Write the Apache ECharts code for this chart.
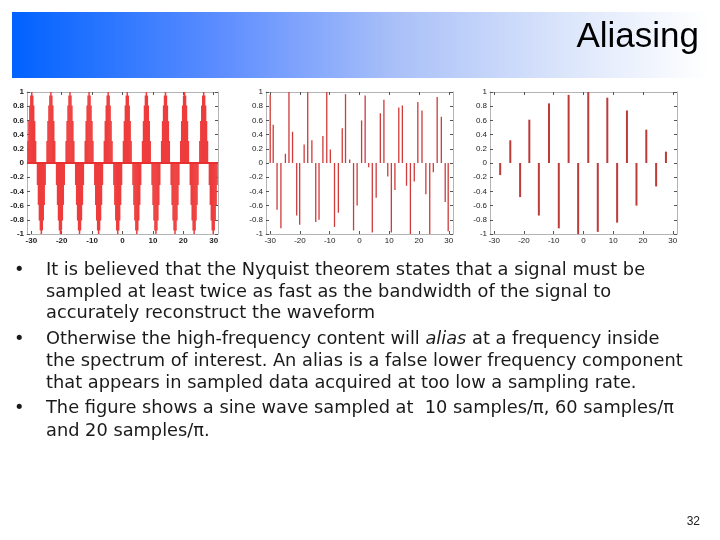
<!DOCTYPE html>
<html>
<head>
<meta charset="utf-8">
<script src="https://cdn.jsdelivr.net/npm/echarts@6/dist/echarts.min.js"></script>
<style>html,body{margin:0;padding:0;background:#fff;}#c{width:720px;height:540px;}</style>
</head>
<body>
<div id="c"></div>
<script>
// ---- data ----
const xTickValues = [-30, -20, -10, 0, 10, 20, 30];
const xRange = [-31.416, 31.416];

// Plot 1: dense samples (10 samples per pi), sample start and step in x units
const plot1Start = -31.416;
const plot1Step = 0.31416;
const plot1Values = [
  0, 0.31, 0.59, 0.81, 0.95, 1, 0.95, 0.81, 0.59, 0.31, 0, -0.31, -0.59, -0.81, -0.95, -1, -0.95, -0.81, -0.59, -0.31,
  0, 0.31, 0.59, 0.81, 0.95, 1, 0.95, 0.81, 0.59, 0.31, 0, -0.31, -0.59, -0.81, -0.95, -1, -0.95, -0.81, -0.59, -0.31,
  0, 0.31, 0.59, 0.81, 0.95, 1, 0.95, 0.81, 0.59, 0.31, 0, -0.31, -0.59, -0.81, -0.95, -1, -0.95, -0.81, -0.59, -0.31,
  0, 0.31, 0.59, 0.81, 0.95, 1, 0.95, 0.81, 0.59, 0.31, 0, -0.31, -0.59, -0.81, -0.95, -1, -0.95, -0.81, -0.59, -0.31,
  0, 0.31, 0.59, 0.81, 0.95, 1, 0.95, 0.81, 0.59, 0.31, 0, -0.31, -0.59, -0.81, -0.95, -1, -0.95, -0.81, -0.59, -0.31,
  0, 0.31, 0.59, 0.81, 0.95, 1, 0.95, 0.81, 0.59, 0.31, 0, -0.31, -0.59, -0.81, -0.95, -1, -0.95, -0.81, -0.59, -0.31,
  0, 0.31, 0.59, 0.81, 0.95, 1, 0.95, 0.81, 0.59, 0.31, 0, -0.31, -0.59, -0.81, -0.95, -1, -0.95, -0.81, -0.59, -0.31,
  0, 0.31, 0.59, 0.81, 0.95, 1, 0.95, 0.81, 0.59, 0.31, 0, -0.31, -0.59, -0.81, -0.95, -1, -0.95, -0.81, -0.59, -0.31,
  0, 0.31, 0.59, 0.81, 0.95, 1, 0.95, 0.81, 0.59, 0.31, 0, -0.31, -0.59, -0.81, -0.95, -1, -0.95, -0.81, -0.59, -0.31,
  0, 0.31, 0.59, 0.81, 0.95, 1, 0.95, 0.81, 0.59, 0.31, 0, -0.31, -0.59, -0.81, -0.95, -1, -0.95, -0.81, -0.59, -0.31,
  0
];

// Plot 2
const plot2X = [-30.0, -29.0, -27.7, -26.4, -24.9, -23.7, -22.5, -21.1, -20.1, -18.6, -17.4, -16.0,
  -14.7, -13.6, -12.3, -11.0, -9.8, -8.4, -7.1, -5.8, -4.7, -3.3, -2.0, -0.8, 0.7, 1.9, 3.1, 4.3,
  5.6, 7.0, 8.2, 9.5, 10.7, 11.9, 13.2, 14.4, 15.8, 17.1, 18.4, 19.6, 21.0, 22.3, 23.6, 24.8,
  26.1, 27.5, 28.8, 29.8];
const plot2Values = [0.96, 0.54, -0.66, -0.92, 0.13, 1.0, 0.44, -0.74, -0.87, 0.26, 1.0, 0.32,
  -0.83, -0.80, 0.38, 1.0, 0.19, -0.90, -0.70, 0.49, 0.97, 0.05, -0.95, -0.60, 0.60, 0.95, -0.06, -0.98,
  -0.49, 0.70, 0.89, -0.19, -0.98, -0.38, 0.78, 0.81, -0.32, -1.0, -0.26, 0.86, 0.74, -0.44,
  -1.0, -0.13, 0.93, 0.65, -0.55, -0.96];

// Plot 3
const plot3X = [-28.0, -24.6, -21.3, -18.2, -15.0, -11.6, -8.3, -5.0, -1.8, 1.6, 4.8, 8.0, 11.3, 14.6, 17.8, 21.1, 24.4, 27.7];
const plot3Values = [-0.17, 0.32, -0.48, 0.61, -0.74, 0.84, -0.92, 0.96, -1.0, 1.0, -0.97, 0.92, -0.84, 0.74, -0.60, 0.47, -0.33, 0.16];

// Text
const titleText = 'Aliasing';
const bulletLines = [
  { bullet: true, text: 'It is believed that the Nyquist theorem states that a signal must be' },
  { bullet: false, text: 'sampled at least twice as fast as the bandwidth of the signal to' },
  { bullet: false, text: 'accurately reconstruct the waveform' },
  { bullet: true, text: 'Otherwise the high-frequency content will {i|alias} at a frequency inside' },
  { bullet: false, text: 'the spectrum of interest. An alias is a false lower frequency component' },
  { bullet: false, text: 'that appears in sampled data acquired at too low a sampling rate.' },
  { bullet: true, text: 'The figure shows a sine wave sampled at  10 samples/π, 60 samples/π' },
  { bullet: false, text: 'and 20 samples/π.' }
];
const pageNumber = '32';

// ---- build ----
const plot1Data = plot1Values.map((v, i) => [plot1Start + i * plot1Step, v]);
const plot2Data = plot2X.map((x, i) => [x, plot2Values[i]]);
const plot3Data = plot3X.map((x, i) => [x, plot3Values[i]]);

const grids = [
  { left: 27, top: 92, width: 191, height: 142 },
  { left: 266, top: 92, width: 187, height: 142 },
  { left: 490, top: 92, width: 187, height: 142 }
];
const boxColor = '#b4b4b4';
const tickColor = '#555';

const xAxes = [], yAxes = [];
grids.forEach((g, gi) => {
  const bold = gi === 0 ? 'bold' : 'normal';
  xAxes.push({
    type: 'value', gridIndex: gi, position: 'bottom', min: xRange[0], max: xRange[1],
    axisLine: { onZero: false, lineStyle: { color: boxColor, width: 1 } },
    axisTick: { inside: true, length: 3, customValues: xTickValues, lineStyle: { color: tickColor } },
    axisLabel: { customValues: xTickValues, fontSize: 8, fontFamily: 'Liberation Sans', fontWeight: bold, color: '#222', margin: 3 },
    splitLine: { show: false }
  });
  xAxes.push({
    type: 'value', gridIndex: gi, position: 'top', min: xRange[0], max: xRange[1],
    axisLine: { onZero: false, lineStyle: { color: boxColor, width: 1 } },
    axisTick: { inside: true, length: 3, customValues: xTickValues, lineStyle: { color: tickColor } },
    axisLabel: { show: false }, splitLine: { show: false }
  });
  yAxes.push({
    type: 'value', gridIndex: gi, position: 'left', min: -1, max: 1, interval: 0.2,
    axisLine: { onZero: false, show: true, lineStyle: { color: boxColor, width: 1 } },
    axisTick: { show: true, inside: true, length: 3, lineStyle: { color: tickColor } },
    axisLabel: { fontSize: 8, fontFamily: 'Liberation Sans', fontWeight: bold, color: '#222', margin: 3,
      formatter: v => String(Math.round(v * 10) / 10) },
    splitLine: { show: false }
  });
  yAxes.push({
    type: 'value', gridIndex: gi, position: 'right', min: -1, max: 1, interval: 0.2,
    axisLine: { onZero: false, show: true, lineStyle: { color: boxColor, width: 1 } },
    axisTick: { show: true, inside: true, length: 3, lineStyle: { color: tickColor } },
    axisLabel: { show: false }, splitLine: { show: false }
  });
});

function stemSeries(gi, data, color, width) {
  return {
    type: 'custom', xAxisIndex: gi * 2, yAxisIndex: gi * 2, data: data, clip: true, silent: true,
    renderItem: (params, api) => {
      const p0 = api.coord([api.value(0), 0]);
      const p1 = api.coord([api.value(0), api.value(1)]);
      return { type: 'line', shape: { x1: p0[0], y1: p0[1], x2: p1[0], y2: p1[1] },
        style: { stroke: color, lineWidth: width } };
    }
  };
}

const s1 = stemSeries(0, plot1Data, '#ee3c3c', 1.5);
s1.markLine = { silent: true, symbol: 'none', label: { show: false },
  lineStyle: { color: '#e83030', width: 2, type: 'solid' }, data: [{ yAxis: 0 }] };

const graphics = [
  { type: 'rect', left: 12, top: 12, shape: { width: 696, height: 66 }, z: 0,
    style: { fill: { type: 'linear', x: 0, y: 0, x2: 1, y2: 0, colorStops: [
      { offset: 0, color: '#0062ff' }, { offset: 0.3, color: '#5d8dff' },
      { offset: 0.55, color: '#a9c0f8' }, { offset: 0.8, color: '#dce6fb' }, { offset: 1, color: '#ffffff' }] } } },
  { type: 'text', right: 21, top: 20, z: 2,
    style: { text: titleText, fontSize: 35, fontFamily: 'Liberation Sans', fill: '#000' } },
  { type: 'text', right: 20, top: 516, z: 2,
    style: { text: pageNumber, fontSize: 12, fontFamily: 'Liberation Sans', fill: '#222' } }
];
const lineYs = [270, 292, 313, 339, 361, 383, 408, 431];
const bodyFont = 17.8;
bulletLines.forEach((ln, i) => {
  if (ln.bullet) {
    graphics.push({ type: 'text', x: 14, y: lineYs[i], z: 2,
      style: { text: '•', fontSize: bodyFont, fontFamily: 'DejaVu Sans', fill: '#1a1a1a', textVerticalAlign: 'middle' } });
  }
  graphics.push({ type: 'text', x: 46, y: lineYs[i], z: 2,
    style: { text: ln.text, fontSize: bodyFont, fontFamily: 'DejaVu Sans', fill: '#1a1a1a', textVerticalAlign: 'middle',
      rich: { i: { fontStyle: 'italic', fontSize: bodyFont, fontFamily: 'DejaVu Sans', fill: '#1a1a1a' } } } });
});

const chart = echarts.init(document.getElementById('c'), null, { renderer: 'canvas' });
chart.setOption({
  backgroundColor: '#ffffff',
  animation: false,
  grid: grids,
  xAxis: xAxes,
  yAxis: yAxes,
  series: [
    s1,
    stemSeries(1, plot2Data, '#cf3a3a', 1.3),
    stemSeries(2, plot3Data, '#bd3b3b', 2)
  ],
  graphic: graphics
});
</script>
</body>
</html>
